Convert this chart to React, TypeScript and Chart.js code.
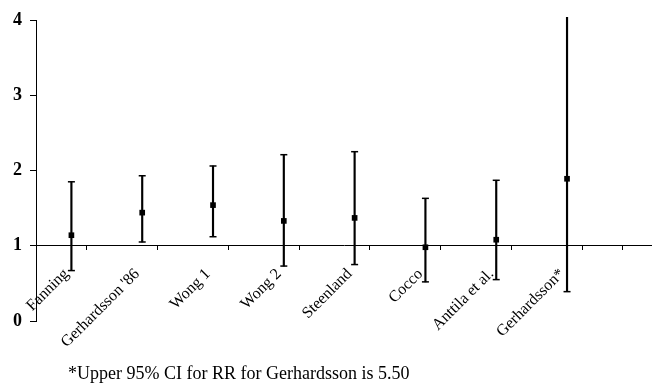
import React, { useEffect, useRef } from 'react';
import { Chart, registerables } from 'chart.js';

Chart.register(...registerables);

const studies = ['Fanning', "Gerhardsson '86", 'Wong 1', 'Wong 2', 'Steenland', 'Cocco', 'Anttila et al.', 'Gerhardsson*'];
const rr = [1.14, 1.44, 1.54, 1.33, 1.37, 0.98, 1.08, 1.89];
const lower = [0.67, 1.05, 1.12, 0.73, 0.75, 0.52, 0.55, 0.39];
const upper = [1.85, 1.93, 2.06, 2.21, 2.25, 1.63, 1.87, 5.5];
const yTicks = [0, 1, 2, 3, 4];
const footnote = '*Upper 95% CI for RR for Gerhardsson is 5.50';

const SERIF = "'Liberation Serif', 'Times New Roman', serif";
const LABEL_SHIFT = 0.07;

export default function App() {
  const canvasRef = useRef<HTMLCanvasElement | null>(null);

  useEffect(() => {
    document.body.style.margin = '0';
    const canvas = canvasRef.current;
    if (!canvas) return;
    const positions = studies.map((_, i) => i + 1);
    const labelTicks = positions.map((p) => ({ value: p - LABEL_SHIFT, label: true }));
    const boundaryTicks = positions.map((p) => ({ value: p + 0.5, label: false }));
    const xTicks = [...labelTicks, ...boundaryTicks].sort((a, b) => a.value - b.value);

    const chart = new Chart(canvas, {
      type: 'bar',
      data: {
        datasets: [
          {
            type: 'scatter',
            data: positions.map((x, i) => ({ x, y: rr[i] })),
            pointStyle: 'rect',
            pointRadius: 4,
            pointBackgroundColor: '#000',
            pointBorderColor: '#000',
            pointBorderWidth: 0,
            order: 1,
          } as any,
          {
            type: 'scatter',
            data: positions.map((x, i) => ({ x, y: upper[i] })),
            pointStyle: 'line',
            pointRadius: 3.5,
            pointBorderColor: '#000',
            pointBorderWidth: 1.5,
            order: 2,
          } as any,
          {
            type: 'scatter',
            data: positions.map((x, i) => ({ x, y: lower[i] })),
            pointStyle: 'line',
            pointRadius: 3.5,
            pointBorderColor: '#000',
            pointBorderWidth: 1.5,
            order: 2,
          } as any,
          {
            type: 'bar',
            data: positions.map((x, i) => ({ x, y: [lower[i], upper[i]] })),
            backgroundColor: '#000',
            borderWidth: 0,
            barThickness: 1.5,
            clip: { left: 0, right: 0, top: 3, bottom: 0 },
            order: 3,
          } as any,
        ],
      },
      options: {
        animation: false,
        responsive: false,
        devicePixelRatio: 1,
        layout: { autoPadding: false, padding: { top: 20, bottom: 65, left: 0, right: 0 } },
        plugins: {
          legend: { display: false },
          tooltip: { enabled: false },
          title: { display: false },
        },
        scales: {
          x: {
            type: 'linear',
            position: { y: 1 } as any,
            min: 0.5,
            max: 9.2,
            offset: false,
            afterBuildTicks: (s: any) => {
              s.ticks = xTicks.map((t) => ({ value: t.value }));
            },
            afterFit: (s: any) => {
              s.paddingLeft = 0;
              s.paddingRight = 0;
            },
            ticks: {
              autoSkip: false,
              minRotation: 45,
              maxRotation: 45,
              padding: 15,
              color: '#000',
              font: { family: SERIF, size: 16 },
              callback: (_v: any, index: number) => {
                const t = xTicks[index];
                if (!t || !t.label) return '';
                return studies[labelTicks.indexOf(t)];
              },
            },
            grid: {
              drawOnChartArea: false,
              drawTicks: true,
              tickLength: 4,
              tickWidth: 1,
              tickColor: (ctx: any) =>
                xTicks[ctx.index] && xTicks[ctx.index].label ? 'rgba(0,0,0,0)' : '#000',
            },
            border: { display: true, color: '#000', width: 1 },
          },
          y: {
            type: 'linear',
            min: 0,
            max: 4,
            afterBuildTicks: (s: any) => {
              s.ticks = yTicks.map((v) => ({ value: v }));
            },
            afterFit: (s: any) => {
              s.width = 36;
            },
            ticks: {
              padding: 8,
              color: '#000',
              font: { family: SERIF, size: 18, weight: 'bold' },
            },
            grid: {
              drawOnChartArea: false,
              drawTicks: true,
              tickLength: 6,
              tickColor: '#000',
            },
            border: { display: true, color: '#000', width: 1 },
          },
        },
      } as any,
    });
    return () => chart.destroy();
  }, []);

  return (
    <div style={{ position: 'relative', width: 652, height: 386, background: '#fff' }}>
      <canvas ref={canvasRef} width={652} height={386} style={{ display: 'block' }} />
      <div
        style={{
          position: 'absolute',
          left: 68,
          top: 363,
          fontFamily: SERIF,
          fontSize: 18,
          lineHeight: 'normal',
          color: '#000',
          whiteSpace: 'nowrap',
        }}
      >
        {footnote}
      </div>
    </div>
  );
}
